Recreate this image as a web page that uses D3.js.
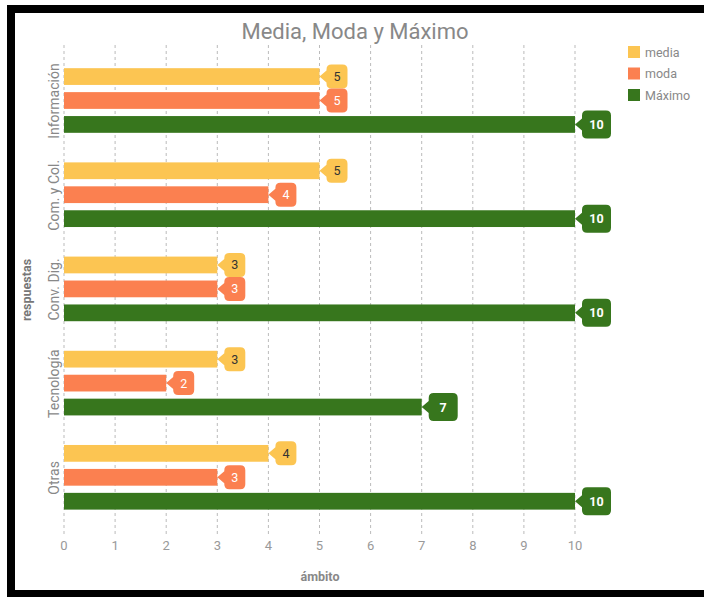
<!DOCTYPE html>
<html><head><meta charset="utf-8">
<script src="https://cdn.jsdelivr.net/npm/d3@7"></script>
<style>body{margin:0;background:#fff}svg{display:block}</style>
</head><body>
<script>
const categories = ["Información", "Com. y Col.", "Conv. Dig.", "Tecnología", "Otras"];
const seriesNames = ["media", "moda", "Máximo"];
const media = [5, 5, 3, 3, 4];
const moda = [5, 4, 3, 2, 3];
const maximo = [10, 10, 10, 7, 10];
const xTicks = [0,1,2,3,4,5,6,7,8,9,10];
const colors = ["#fcc552", "#fb8050", "#37761d"];
const textColors = ["#333", "#fff", "#fff"];

const seriesValues = [media, moda, maximo];
const W = 704, H = 597;
const svg = d3.select("body").append("svg").attr("width", W).attr("height", H);
svg.append("rect").attr("width", W).attr("height", H).attr("fill", "#fff");
// frame
svg.append("rect").attr("x", 7).attr("y", 5).attr("width", W - 7).attr("height", 8).attr("fill", "#000");
svg.append("rect").attr("x", 7).attr("y", 5).attr("width", 8).attr("height", H - 5).attr("fill", "#000");
svg.append("rect").attr("x", 7).attr("y", 590).attr("width", W - 7).attr("height", 7).attr("fill", "#000");

const font = "Roboto, 'Liberation Sans', Arial, sans-serif";
const x = d3.scaleLinear().domain([0, 10]).range([64, 575]);
const y = d3.scaleBand().domain(categories).range([54, 525]);
const ys = d3.scaleBand().domain(seriesNames).range([7, 86]).padding(0.3);

// grid
svg.append("g").selectAll("line").data(xTicks).join("line")
  .attr("x1", d => x(d)).attr("x2", d => x(d)).attr("y1", 45).attr("y2", 535)
  .attr("stroke", "#bbb").attr("stroke-dasharray", "3,3").attr("stroke-width", 1);

// x tick labels
svg.append("g").selectAll("text").data(xTicks).join("text")
  .attr("x", d => x(d)).attr("y", 550).attr("text-anchor", "middle")
  .attr("font-family", font).attr("font-size", 13).attr("fill", "#999").text(d => d);

// bars
const rows = [];
categories.forEach((c, i) => seriesNames.forEach((s, j) => rows.push({c, s, j, v: seriesValues[j][i]})));
const g = svg.append("g");
g.selectAll("rect").data(rows).join("rect")
  .attr("x", x(0)).attr("y", d => y(d.c) + ys(d.s))
  .attr("width", d => x(d.v) - x(0)).attr("height", ys.bandwidth())
  .attr("fill", d => colors[d.j]);

// callout labels
const lab = svg.append("g");
rows.forEach(d => {
  const cx = x(d.v), cy = y(d.c) + ys(d.s) + ys.bandwidth() / 2;
  const big = d.j === 2;
  const w = big ? 29 : (d.v >= 10 ? 28 : 21), h = big ? 28 : 24, a = 7, r = 5;
  const x0 = cx + a, x1 = x0 + w, y0 = cy - h / 2, y1 = cy + h / 2;
  const p = `M${cx},${cy} L${x0},${cy - 6} L${x0},${y0 + r} Q${x0},${y0} ${x0 + r},${y0} L${x1 - r},${y0} Q${x1},${y0} ${x1},${y0 + r} L${x1},${y1 - r} Q${x1},${y1} ${x1 - r},${y1} L${x0 + r},${y1} Q${x0},${y1} ${x0},${y1 - r} L${x0},${cy + 6} Z`;
  lab.append("path").attr("d", p).attr("fill", colors[d.j]);
  lab.append("text").attr("x", x0 + w / 2).attr("y", cy + 4.5).attr("text-anchor", "middle")
    .attr("font-family", font).attr("font-size", 12.5).attr("font-weight", big ? "bold" : "normal")
    .attr("fill", textColors[d.j]).text(d.v);
});

// y category labels
svg.append("g").selectAll("text").data(categories).join("text")
  .attr("transform", d => `translate(59,${y(d) + y.bandwidth() / 2}) rotate(-90)`)
  .attr("text-anchor", "middle").attr("font-family", font).attr("font-size", 14)
  .attr("fill", "#888").text(d => d);

// axis titles
svg.append("text").attr("transform", "translate(31,290) rotate(-90)").attr("text-anchor", "middle")
  .attr("font-family", font).attr("font-size", 12.5).attr("font-weight", "bold").attr("fill", "#777").text("respuestas");
svg.append("text").attr("x", 320).attr("y", 581).attr("text-anchor", "middle")
  .attr("font-family", font).attr("font-size", 12.5).attr("font-weight", "bold").attr("fill", "#888").text("ámbito");

// title
svg.append("text").attr("x", 355).attr("y", 39).attr("text-anchor", "middle")
  .attr("font-family", font).attr("font-size", 22).attr("fill", "#888").text("Media, Moda y Máximo");

// legend
const lg = svg.append("g").selectAll("g").data(seriesNames).join("g")
  .attr("transform", (d, i) => `translate(628,${46 + i * 21.5})`);
lg.append("rect").attr("width", 12).attr("height", 12).attr("fill", (d, i) => colors[i]);
lg.append("text").attr("x", 17).attr("y", 10.5).attr("font-family", font).attr("font-size", 12.5)
  .attr("fill", "#888").text(d => d);
</script>
</body></html>
